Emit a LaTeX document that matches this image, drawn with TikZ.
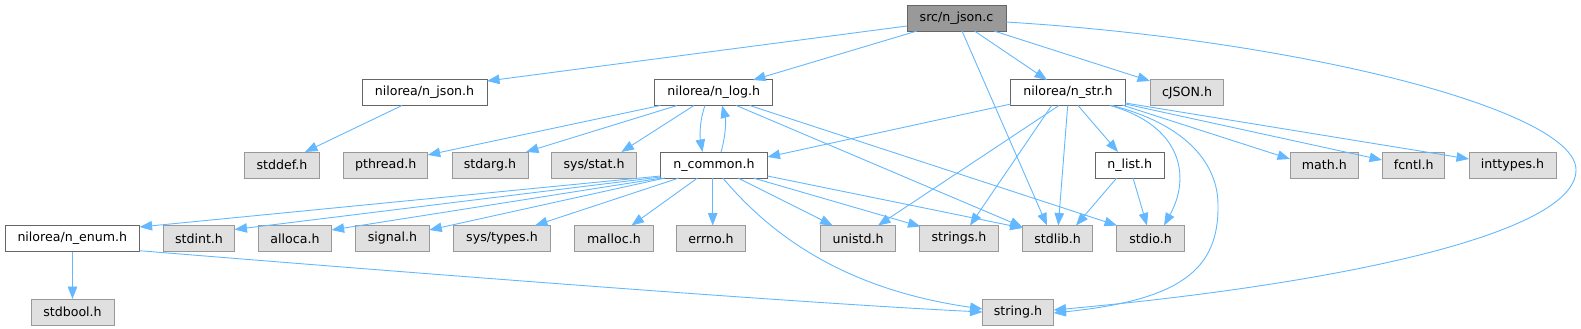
\documentclass[tikz,border=0pt]{standalone}
\usepackage{fontspec}
\setmainfont{DejaVu Sans}
\usetikzlibrary{arrows.meta}
\definecolor{edgec}{HTML}{63B8FF}
\definecolor{rootfill}{HTML}{999999}
\definecolor{darkb}{HTML}{666666}
\definecolor{extfill}{HTML}{E0E0E0}
\definecolor{lightb}{HTML}{999999}
\tikzset{
  base/.style={rectangle, minimum height=26pt, inner sep=0pt, line width=0.9pt,
    font=\fontsize{12.6}{14}\selectfont, text=black},
  rootbox/.style={base, fill=rootfill, draw=darkb, minimum width=#1},
  localbox/.style={base, fill=white, draw=darkb, minimum width=#1},
  extbox/.style={base, fill=extfill, draw=lightb, minimum width=#1},
  dep/.style={draw=edgec, line width=0.9pt, -{Triangle[length=12.5pt,width=9.5pt]}}
}
\begin{document}
\begin{tikzpicture}[x=1pt,y=-1pt]
\useasboundingbox (0,0) rectangle (1581,329);
% row 1
\node[rootbox=99pt] (src) at (956.5,18) {src/n\_json.c};
% row 2
\node[localbox=125pt] (njson) at (424.5,92.5) {nilorea/n\_json.h};
\node[localbox=118pt] (nlog) at (713.7,92.5) {nilorea/n\_log.h};
\node[localbox=114.5pt] (nstr) at (1068,92.5) {nilorea/n\_str.h};
\node[extbox=73.5pt] (cjson) at (1187,92.5) {cJSON.h};
% row 3
\node[extbox=75pt] (stddef) at (282,165) {stddef.h};
\node[extbox=84pt] (pthread) at (385.7,165) {pthread.h};
\node[extbox=76pt] (stdarg) at (490,165) {stdarg.h};
\node[extbox=85.5pt] (sysstat) at (594,165) {sys/stat.h};
\node[localbox=107pt] (ncommon) at (714,165) {n\_common.h};
\node[localbox=69pt] (nlist) at (1129.7,165) {n\_list.h};
\node[extbox=67.6pt] (math) at (1324.3,165) {math.h};
\node[extbox=62pt] (fcntl) at (1413.7,165) {fcntl.h};
\node[extbox=87pt] (inttypes) at (1512.5,165) {inttypes.h};
% row 4
\node[localbox=134.5pt] (nenum) at (72.3,238.5) {nilorea/n\_enum.h};
\node[extbox=71pt] (stdint) at (199,238.5) {stdint.h};
\node[extbox=73.4pt] (alloca) at (295,238.5) {alloca.h};
\node[extbox=73.7pt] (signal) at (392.4,238.5) {signal.h};
\node[extbox=97pt] (systypes) at (502,238.5) {sys/types.h};
\node[extbox=78.4pt] (malloc) at (614,238.5) {malloc.h};
\node[extbox=68.7pt] (errno) at (711,238.5) {errno.h};
\node[extbox=74.4pt] (unistd) at (858,238.5) {unistd.h};
\node[extbox=79pt] (strings) at (959,238.5) {strings.h};
\node[extbox=70pt] (stdlib) at (1057.5,238.5) {stdlib.h};
\node[extbox=67.7pt] (stdio) at (1150.5,238.5) {stdio.h};
% row 5
\node[extbox=83pt] (stdbool) at (72.5,312) {stdbool.h};
\node[extbox=71pt] (string) at (1018,312) {string.h};
\coordinate (rc) at (1576,170);

% src edges
\draw[dep] ([shift={(-49.5,8)}]src.center) -- ([shift={(62.5,-11.5)}]njson.center);
\draw[dep] ([shift={(-39.5,13)}]src.center) -- ([shift={(39.3,-12.5)}]nlog.center);
\draw[dep] ([shift={(18,13)}]src.center) -- ([shift={(-21,-12.5)}]nstr.center);
\draw[dep] ([shift={(37.5,13)}]src.center) -- ([shift={(-37,-11.5)}]cjson.center);
\draw[dep] ([shift={(5.5,13)}]src.center) -- ([shift={(-10.5,-13)}]stdlib.center);
\draw[dep] ([shift={(49.5,4)}]src.center) .. controls (1300,40) and (1576,110) .. (rc)
  .. controls (1576,235) and (1330,285) .. ([shift={(35.5,-2)}]string.center);
% njson
\draw[dep] ([shift={(-22.5,13)}]njson.center) -- ([shift={(23,-13)}]stddef.center);
% nlog
\draw[dep] ([shift={(-53.4,13)}]nlog.center) -- ([shift={(42,-10)}]pthread.center);
\draw[dep] ([shift={(-36.7,13)}]nlog.center) -- ([shift={(36,-13)}]stdarg.center);
\draw[dep] ([shift={(-19.7,13)}]nlog.center) -- ([shift={(27.4,-13)}]sysstat.center);
\draw[dep] ([shift={(-8.7,13)}]nlog.center) .. controls (699,122) and (700,138) .. ([shift={(-11.5,-13)}]ncommon.center);
\draw[dep] ([shift={(7,-13)}]ncommon.center) .. controls (726,135) and (726,120) .. ([shift={(8.3,13)}]nlog.center);
\draw[dep] ([shift={(22.6,13)}]nlog.center) -- ([shift={(-35,-11.5)}]stdlib.center);
\draw[dep] ([shift={(36,13)}]nlog.center) -- ([shift={(-33.5,-13)}]stdio.center);
% nstr
\draw[dep] ([shift={(-57,11.5)}]nstr.center) -- ([shift={(53.5,-8)}]ncommon.center);
\draw[dep] ([shift={(-9,13)}]nstr.center) -- ([shift={(20,-13)}]unistd.center);
\draw[dep] ([shift={(-16.3,13)}]nstr.center) -- ([shift={(11,-13)}]strings.center);
\draw[dep] ([shift={(-0.3,13)}]nstr.center) -- ([shift={(0.8,-13)}]stdlib.center);
\draw[dep] ([shift={(10,13)}]nstr.center) -- ([shift={(-11.7,-13)}]nlist.center);
\draw[dep] ([shift={(42,13)}]nstr.center) .. controls (1180,125) and (1192,175) .. ([shift={(13.5,-13)}]stdio.center);
\draw[dep] ([shift={(44,13)}]nstr.center) .. controls (1188,125) and (1218,165) .. (1218,205)
  .. controls (1219,270) and (1180,300) .. ([shift={(35.5,1)}]string.center);
\draw[dep] ([shift={(54,12.5)}]nstr.center) -- ([shift={(-34.3,-6)}]math.center);
\draw[dep] ([shift={(57.25,11.5)}]nstr.center) -- ([shift={(-31.7,-5)}]fcntl.center);
\draw[dep] ([shift={(57.25,10.5)}]nstr.center) -- ([shift={(-43.5,-6)}]inttypes.center);
% nlist
\draw[dep] ([shift={(-13,13)}]nlist.center) -- ([shift={(18.5,-13)}]stdlib.center);
\draw[dep] ([shift={(3.3,13)}]nlist.center) -- ([shift={(-3.5,-13)}]stdio.center);
% ncommon
\draw[dep] ([shift={(-53.5,11)}]ncommon.center) -- ([shift={(67.3,-11.5)}]nenum.center);
\draw[dep] ([shift={(-53.5,12)}]ncommon.center) -- ([shift={(35.5,-9)}]stdint.center);
\draw[dep] ([shift={(-52,13)}]ncommon.center) -- ([shift={(36.6,-8.5)}]alloca.center);
\draw[dep] ([shift={(-49,13)}]ncommon.center) -- ([shift={(36.9,-8.5)}]signal.center);
\draw[dep] ([shift={(-35,13)}]ncommon.center) -- ([shift={(33,-13)}]systypes.center);
\draw[dep] ([shift={(-16.5,13)}]ncommon.center) -- ([shift={(17.5,-13)}]malloc.center);
\draw[dep] ([shift={(-1.3,13)}]ncommon.center) -- ([shift={(1.7,-13)}]errno.center);
\draw[dep] ([shift={(24,13)}]ncommon.center) -- ([shift={(-25.3,-13)}]unistd.center);
\draw[dep] ([shift={(39.2,13)}]ncommon.center) -- ([shift={(-38.5,-12)}]strings.center);
\draw[dep] ([shift={(53.5,11)}]ncommon.center) -- ([shift={(-35,-10.5)}]stdlib.center);
\draw[dep] ([shift={(8.8,13)}]ncommon.center) .. controls (775,240) and (850,290) .. ([shift={(-35.5,-3)}]string.center);
% nenum
\draw[dep] ([shift={(0.2,13)}]nenum.center) -- ([shift={(0,-13)}]stdbool.center);
\draw[dep] ([shift={(67.3,12.2)}]nenum.center) .. controls (450,276) and (800,303) .. ([shift={(-35.5,0)}]string.center);
\end{tikzpicture}
\end{document}
